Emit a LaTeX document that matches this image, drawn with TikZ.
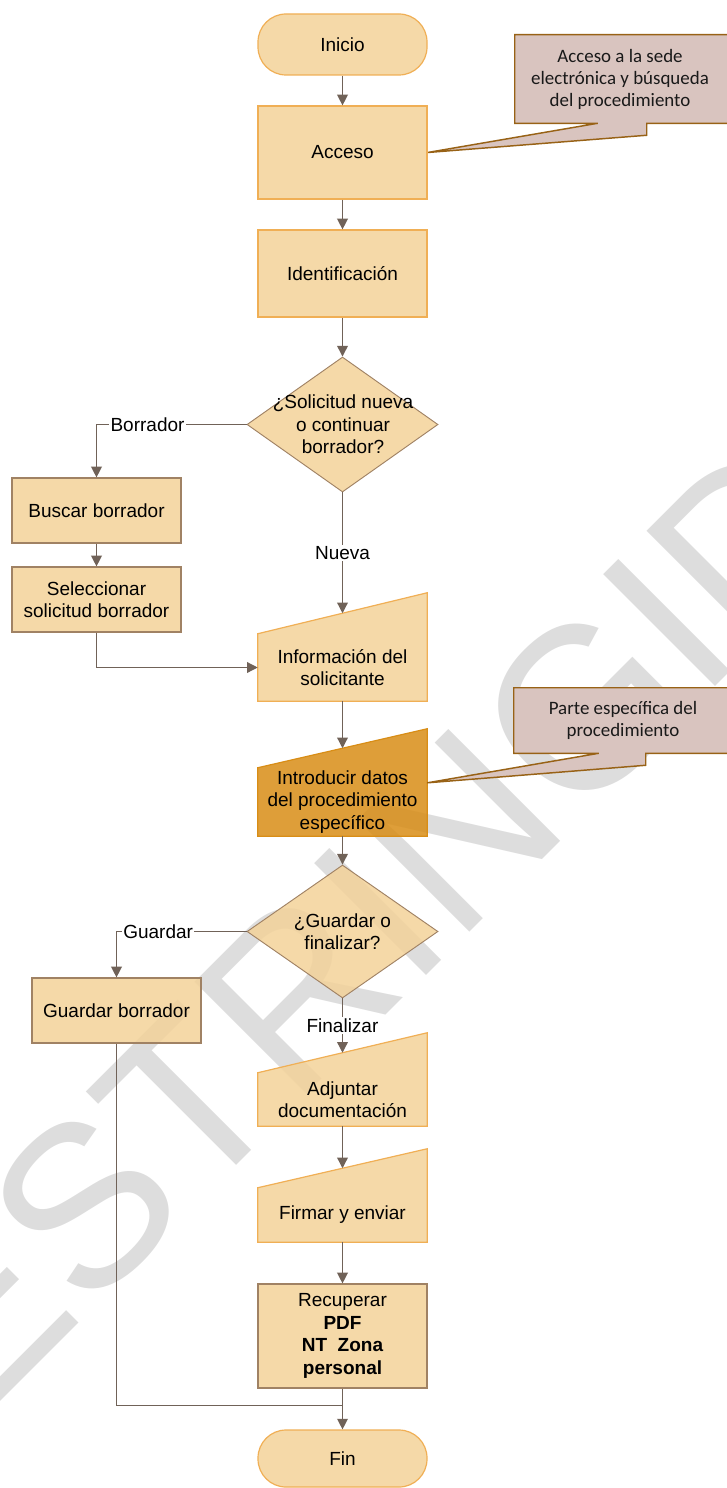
\documentclass[tikz,border=0pt]{standalone}
\usepackage{fontspec}
\setmainfont{Liberation Sans}
\newfontfamily\calfont{Carlito}
\usetikzlibrary{arrows.meta,calc,shapes.geometric}
\newcommand{\pxl}[1]{#1*0.75pt}
\definecolor{boxfill}{RGB}{243,210,153}
\definecolor{darkfill}{RGB}{216,141,22}
\definecolor{orline}{RGB}{240,175,85}
\definecolor{brline}{RGB}{160,130,100}
\definecolor{arrowc}{RGB}{112,98,88}
\definecolor{callfill}{RGB}{217,196,191}
\definecolor{callline}{RGB}{152,98,22}
\definecolor{wmark}{RGB}{221,221,221}
\pgfdeclarelayer{wm}
\pgfdeclarelayer{bg}
\pgfsetlayers{wm,bg,main}
\begin{document}
\begin{tikzpicture}[x=0.75pt,y=-0.75pt,
  txt/.style={font=\fontsize{14.25}{16.9}\selectfont, align=center, inner sep=0pt, text=black},
  shp/.style={txt, fill=boxfill, fill opacity=0.85, text opacity=1, line width=0.9pt, minimum width=\pxl{169}},
  pbox/.style={shp, rectangle, draw=orline},
  gbox/.style={shp, rectangle, draw=brline},
  term/.style={shp, rectangle, rounded corners=21pt, draw=orline},
  dia/.style={diamond, fill=boxfill, fill opacity=0.85, draw=brline, line width=0.7pt, inner sep=0pt, minimum width=\pxl{191}},
  mtext/.style={txt, minimum width=\pxl{169}},
  mshape/.style={fill=boxfill, fill opacity=0.85, draw=orline, line width=0.9pt},
  arr/.style={draw=arrowc, line width=1pt, -{Triangle[length=8pt,width=8pt]}},
  conn/.style={draw=arrowc, line width=1pt},
  lab/.style={txt, fill=white, inner sep=1pt},
  calltext/.style={font=\calfont\fontsize{14.2}{16.5}\selectfont, align=center, inner sep=0pt, text=black!90},
  callshape/.style={fill=callfill, draw=callline, line width=1.1pt},
  wmk/.style={font=\fontsize{172.5}{172.5}\selectfont, text=wmark, inner sep=0pt, rotate=45}
]
\useasboundingbox (0,0) rectangle (726,1488);

% watermark
\begin{pgfonlayer}{wm}
\node[wmk] (wmtext) at (369,921) {RESTRINGIDO};
\end{pgfonlayer}

% nodes
\node[term, minimum height=\pxl{61}] (inicio) at (342.5,44.5) {Inicio};
\node[pbox, minimum height=\pxl{93}] (acceso) at (342.5,152.5) {Acceso};
\node[pbox, minimum height=\pxl{87}] (ident) at (342.5,273.5) {Identificación};
\node[dia, minimum height=\pxl{135}] (d1) at (342.5,424.5) {};
\node[txt] (d1t) at (343,424.5) {¿Solicitud nueva\\o continuar\\borrador?};
\node[gbox, minimum height=\pxl{65}] (buscar) at (96.5,510.5) {Buscar borrador};
\node[gbox, minimum height=\pxl{65}] (selec) at (96.5,599.5) {Seleccionar\\solicitud borrador};
\node[mtext, minimum height=\pxl{67}] (info) at (342.5,667.5) {Información del\\solicitante};
\node[mtext, minimum height=\pxl{68}] (intro) at (342.5,802) {Introducir datos\\del procedimiento\\específico};
\node[dia, minimum height=\pxl{133}] (d2) at (342.5,931.5) {};
\node[txt] (d2t) at (342.5,931.5) {¿Guardar o\\finalizar?};
\node[gbox, minimum height=\pxl{65}] (guardb) at (116.5,1010.5) {Guardar borrador};
\node[mtext, minimum height=\pxl{53}] (adj) at (342.5,1099.5) {Adjuntar\\documentación};
\node[mtext, minimum height=\pxl{54}] (firmar) at (342.5,1215) {Firmar y enviar};
\node[gbox, minimum height=\pxl{104}] (recup) at (342.5,1336) {Recuperar\\\textbf{PDF}\\\textbf{NT~ Zona}\\\textbf{personal}};
\node[term, minimum height=\pxl{57}] (fin) at (342.5,1458.5) {Fin};

% callout texts
\node[calltext, minimum width=\pxl{210}, minimum height=\pxl{88}] (c1) at (620,79) {Acceso a la sede\\electrónica y búsqueda\\del procedimiento};
\node[calltext, minimum width=\pxl{218}, minimum height=\pxl{65}] (c2) at (623,720.5) {Parte específica del\\procedimiento};

% shapes behind text
\begin{pgfonlayer}{bg}
\path[mshape] (info.south west) -- (info.north west) -- ($(info.north east)+(0,-41)$) -- (info.south east) -- cycle;
\path[mshape, fill=darkfill, draw=darkfill] (intro.south west) -- (intro.north west) -- ($(intro.north east)+(0,-39)$) -- (intro.south east) -- cycle;
\path[mshape] (adj.south west) -- (adj.north west) -- ($(adj.north east)+(0,-40)$) -- (adj.south east) -- cycle;
\path[mshape] (firmar.south west) -- (firmar.north west) -- ($(firmar.north east)+(0,-39)$) -- (firmar.south east) -- cycle;
\path[callshape] (c1.south west) -- (c1.north west) -- ($(c1.north east)+(10,0)$) -- ($(c1.south east)+(10,0)$)
  -- ($(c1.south west)+(132,0)$) -- ($(c1.south west)+(132,12)$) -- (acceso.east) -- ($(c1.south west)+(83,0)$) -- cycle;
\coordinate (introtip) at ($(intro.north east)!0.22!(intro.south east)$);
\path[callshape] (c2.south west) -- (c2.north west) -- ($(c2.north east)+(10,0)$) -- ($(c2.south east)+(10,0)$)
  -- ($(c2.south west)+(132,0)$) -- ($(c2.south west)+(132,12)$) -- (introtip) -- ($(c2.south west)+(85,0)$) -- cycle;
\end{pgfonlayer}

% connector targets on slanted tops
\coordinate (infotop) at ($(info.north)+(0,-20.5)$);
\coordinate (introtop) at ($(intro.north)+(0,-19.5)$);
\coordinate (adjtop) at ($(adj.north)+(0,-20)$);
\coordinate (firmtop) at ($(firmar.north)+(0,-19.5)$);
\coordinate (merge) at ($(recup.south)+(0,17)$);

% connectors
\draw[arr] (inicio) -- (acceso);
\draw[arr] (acceso) -- (ident);
\draw[arr] (ident) -- (d1);
\draw[arr] (d1.west) -| node[lab, pos=0.33] {Borrador} (buscar.north);
\draw[arr] (buscar) -- (selec);
\draw[arr] (selec.south) |- (info.west);
\draw[arr] (d1.south) -- node[lab, pos=0.5] {Nueva} (infotop);
\draw[arr] (info.south) -- (introtop);
\draw[arr] (intro.south) -- (d2.north);
\draw[arr] (d2.west) -| node[lab, pos=0.34] {Guardar} (guardb.north);
\draw[arr] (d2.south) -- node[lab, pos=0.5] {Finalizar} (adjtop);
\draw[arr] (adj.south) -- (firmtop);
\draw[arr] (firmar.south) -- (recup.north);
\draw[conn] (guardb.south) |- (merge);
\draw[arr] (recup.south) -- (fin.north);
\end{tikzpicture}
\end{document}
